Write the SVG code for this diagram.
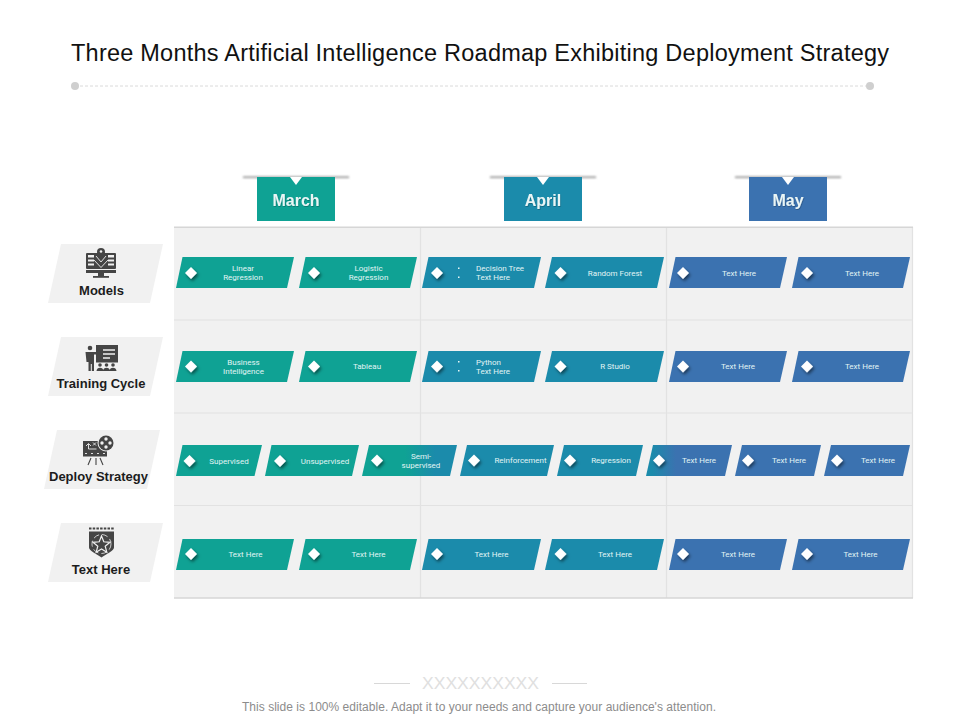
<svg xmlns="http://www.w3.org/2000/svg" width="960" height="720" viewBox="0 0 960 720">
<style>
text{font-family:"Liberation Sans",Arial,sans-serif}
.title{font-size:23.5px;fill:#111}
.foot{font-size:12px;fill:#8c8c8c}
.month{font-size:16px;font-weight:bold;fill:#eaf5f5;text-anchor:middle}
.side{font-size:13px;font-weight:bold;fill:#1c1c1c;text-anchor:middle}
.t{font-family:"Roboto","Liberation Sans",sans-serif;font-weight:400;font-size:8px;fill:#e2f5f5;text-anchor:middle}
.l{text-anchor:start}
.teal{fill:#0fa294}.blue{fill:#1b8bab}.navy{fill:#3b72b0}
.panel{fill:#f1f1f1}
.ico{fill:#454545}
.icow{fill:#f0f0f0}
.grid{stroke:#e2e2e2;stroke-width:1.2;fill:none}
.edge{stroke:#d6d6d6;stroke-width:1.5;fill:none}
.dm{fill:#fff;filter:url(#sh)}
.bar{fill:#8a8a8a;filter:url(#bs)}
.dot{fill:#e8f7f7}
</style>
<defs>
<filter id="sh" x="-80%" y="-80%" width="260%" height="260%"><feDropShadow dx="1.5" dy="2.200" stdDeviation="1.400" flood-color="#000" flood-opacity=".5"/></filter>
<filter id="bs" x="-10%" y="-300%" width="120%" height="700%"><feGaussianBlur stdDeviation="1"/></filter>
<filter id="ts" x="-10%" y="-20%" width="120%" height="150%"><feDropShadow dx=".6" dy=".8" stdDeviation=".5" flood-color="#000" flood-opacity=".3"/></filter>
<polygon id="dia" points="0,-6 6,0 0,6 -6,0"/>
<linearGradient id="g1" gradientUnits="userSpaceOnUse" x1="405" x2="435" y1="0" y2="0"><stop offset="0" stop-color="#0fa294"/><stop offset="1" stop-color="#1b8bab"/></linearGradient>
<linearGradient id="g2" gradientUnits="userSpaceOnUse" x1="652" x2="676" y1="0" y2="0"><stop offset="0" stop-color="#1b8bab"/><stop offset="1" stop-color="#3b72b0"/></linearGradient>
</defs>
<rect width="960" height="720" fill="#fff"/>
<g id="header">
<text class="title" x="71" y="61" textLength="818" lengthAdjust="spacing">Three Months Artificial Intelligence Roadmap Exhibiting Deployment Strategy</text>
<line x1="80" y1="86" x2="866" y2="86" stroke="#dadada" stroke-width="1" stroke-dasharray="3 2"/>
<circle cx="75" cy="86" r="4" fill="#cfcfcf"/><circle cx="870" cy="86" r="4" fill="#cfcfcf"/>
</g>
<g id="table">
<rect x="174" y="227" width="739" height="371" fill="#f1f1f1"/>
<path class="grid" d="M174 320H913M174 413H913M174 505.500H913M420.500 227V598M666.500 227V598M912.500 227V598"/>
<path class="edge" d="M174 227.300H913M174 598H913"/>
</g>
<g id="month-march">
<rect class="bar" x="243" y="176.500" width="106" height="1.500"/>
<rect class="teal" x="257" y="177" width="78" height="44"/>
<polygon points="290,177 302,177 296,185" fill="#fff"/>
<text class="month" x="296" y="206" filter="url(#ts)">March</text>
</g>
<g id="month-april">
<rect class="bar" x="490" y="176.500" width="106" height="1.500"/>
<rect class="blue" x="504" y="177" width="78" height="44"/>
<polygon points="537,177 549,177 543,185" fill="#fff"/>
<text class="month" x="543" y="206" filter="url(#ts)">April</text>
</g>
<g id="month-may">
<rect class="bar" x="735" y="176.500" width="106" height="1.500"/>
<rect class="navy" x="749" y="177" width="78" height="44"/>
<polygon points="782,177 794,177 788,185" fill="#fff"/>
<text class="month" x="788" y="206" filter="url(#ts)">May</text>
</g>
<g id="side-models">
<polygon class="panel" points="61,244 163,244 150,303 48,303"/>
<g class="ico">
<rect x="86" y="253" width="30" height="16" rx="1"/>
<circle cx="101" cy="252" r="4"/>
<rect x="86" y="270" width="30" height="3"/>
<rect x="98" y="273" width="6" height="3"/><rect x="93" y="276" width="16" height="1.800"/>
</g>
<path d="M88 255h6v2.500h-6zM108 255h6v2.500h-6zM88 259.500h6v2h-6zM108 259.500h6v2h-6zM88 263.500h6v2h-6zM108 263.500h6v2h-6z" class="icow"/>
<path d="M96 256l5 6 5-6M94 260l7 7.500 7-7.500" fill="none" stroke="#f0f0f0" stroke-width=".9"/>
<circle cx="101" cy="251.500" r="1.300" class="icow"/>
<text class="side" x="101.500" y="295">Models</text>
</g>
<g id="side-training">
<polygon class="panel" points="61,337 163,337 150,396 48,396"/>
<g class="ico">
<rect x="96" y="345" width="22" height="17.500"/>
<circle cx="90" cy="348" r="2.300"/>
<path d="M85.500 352h8l4 0v2.500h-3.500V362v9h-2.200v-7h-1v7h-2.300v-9h-2z"/>
<circle cx="100" cy="365" r="1.800"/><circle cx="106.500" cy="365" r="1.800"/><circle cx="113" cy="365" r="1.800"/>
<path d="M96.500 371c0-4.500 7-4.500 7 0zM103 371c0-4.500 7-4.500 7 0zM109.500 371c0-4.500 7-4.500 7 0z"/>
</g>
<path d="M103 350h12M103 354h12M103 358h7" stroke="#f0f0f0" stroke-width="1.300"/>
<text class="side" x="101" y="388">Training Cycle</text>
</g>
<g id="side-deploy">
<polygon class="panel" points="57,430 160,430 147,489 44,489"/>
<rect class="ico" x="83" y="441" width="24" height="15.500"/>
<circle cx="106" cy="443" r="8.500" fill="#f0f0f0"/>
<circle class="ico" cx="106" cy="443" r="7.500"/>
<g class="icow"><circle cx="106" cy="439" r="1.700"/><circle cx="110" cy="443" r="1.700"/><circle cx="106" cy="447" r="1.700"/><circle cx="102" cy="443" r="1.700"/></g>
<path d="M86 446l2.500-2.500 2.500 2.500M88.500 444v5h8M93 442.500l3 3M96 442.500l-3 3M85 453.500h2M91 453.500h2M97 453.500h2M103 453.500h2" stroke="#f0f0f0" stroke-width=".9" fill="none"/>
<path d="M91 458l-3 7M96 458v7M100 458l3 7" stroke="#454545" stroke-width="1.100"/>
<text class="side" x="98.500" y="481">Deploy Strategy</text>
</g>
<g id="side-text">
<polygon class="panel" points="61,523 163,523 150,582 48,582"/>
<path class="ico" d="M89 531.500h25v16c0 3-8 7-12.500 10c-4.500-3-12.500-7-12.500-10z"/>
<path d="M89 528.500h25" stroke="#454545" stroke-width="2" stroke-dasharray="2.500 1.200"/>
<circle cx="101.500" cy="544" r="9.500" fill="none" stroke="#f0f0f0" stroke-width=".8" stroke-dasharray="6 3"/>
<polygon points="101.500,536 103.800,541.800 110,542.300 105.200,546.200 106.800,552.200 101.500,548.900 96.200,552.200 97.800,546.200 93,542.300 99.200,541.800" fill="#454545" stroke="#f0f0f0" stroke-width="1.200"/>
<text class="side" x="101" y="574">Text Here</text>
</g>
<g id="r1c1"><polygon class="teal" points="182.500,257 294,257 287,288 176,288"/><use href="#dia" class="dm" x="191" y="273"/><text class="t" x="243" y="270.500">Linear</text><text class="t" x="243" y="279.500">Regression</text></g>
<g id="r1c2"><polygon class="teal" points="305.500,257 417,257 410,288 299,288"/><use href="#dia" class="dm" x="314" y="273"/><text class="t" x="368.500" y="270.500">Logistic</text><text class="t" x="368.500" y="279.500">Regression</text></g>
<g id="r1c3"><polygon class="blue" points="428.500,257 541,257 534,288 422,288"/><use href="#dia" class="dm" x="437" y="273"/><rect class="dot" x="458" y="267.500" width="1.500" height="1.500"/><rect class="dot" x="458" y="276.500" width="1.500" height="1.500"/><text class="t l" x="476" y="270.500">Decision Tree</text><text class="t l" x="476" y="279.500">Text Here</text></g>
<g id="r1c4"><polygon class="blue" points="552,257 664,257 657,288 545,288"/><use href="#dia" class="dm" x="560.500" y="273"/><text class="t" x="615" y="276">Random  Forest</text></g>
<g id="r1c5"><polygon class="navy" points="675.500,257 787,257 780,288 669,288"/><use href="#dia" class="dm" x="683" y="273"/><text class="t" x="739" y="276">Text Here</text></g>
<g id="r1c6"><polygon class="navy" points="798.500,257 910,257 903,288 792,288"/><use href="#dia" class="dm" x="807" y="273"/><text class="t" x="862" y="276">Text Here</text></g>
<g id="r2c1"><polygon class="teal" points="182.500,351 294,351 287,382 176,382"/><use href="#dia" class="dm" x="191" y="366.500"/><text class="t" x="243.500" y="365">Business</text><text class="t" x="243.500" y="374">Intelligence</text></g>
<g id="r2c2"><polygon class="teal" points="305.500,351 417,351 410,382 299,382"/><use href="#dia" class="dm" x="314" y="366.500"/><text class="t" x="367" y="369">Tableau</text></g>
<g id="r2c3"><polygon class="blue" points="428.500,351 541,351 534,382 422,382"/><use href="#dia" class="dm" x="437" y="366.500"/><rect class="dot" x="458" y="361" width="1.500" height="1.500"/><rect class="dot" x="458" y="370" width="1.500" height="1.500"/><text class="t l" x="476" y="364.500">Python</text><text class="t l" x="476" y="373.500">Text Here</text></g>
<g id="r2c4"><polygon class="blue" points="552,351 664,351 657,382 545,382"/><use href="#dia" class="dm" x="560.500" y="366.500"/><text class="t" x="615" y="369">R Studio</text></g>
<g id="r2c5"><polygon class="navy" points="675.500,351 787,351 780,382 669,382"/><use href="#dia" class="dm" x="683" y="366.500"/><text class="t" x="738" y="369">Text Here</text></g>
<g id="r2c6"><polygon class="navy" points="798.500,351 910,351 903,382 792,382"/><use href="#dia" class="dm" x="807" y="366.500"/><text class="t" x="862" y="369">Text Here</text></g>
<g id="r3c1"><polygon class="teal" points="182.500,445 262,445 254.500,476 176,476"/><use href="#dia" class="dm" x="189.500" y="461"/><text class="t" x="229" y="463.500">Supervised</text></g>
<g id="r3c2"><polygon class="teal" points="271.500,445 359,445 352,476 265,476"/><use href="#dia" class="dm" x="280" y="461"/><text class="t" x="325" y="463.500">Unsupervised</text></g>
<g id="r3c3"><polygon fill="url(#g1)" points="369,445 457,445 450,476 362,476"/><use href="#dia" class="dm" x="377" y="460.500"/><text class="t" x="421" y="459">Semi-</text><text class="t" x="421" y="468">supervised</text></g>
<g id="r3c4"><polygon class="blue" points="467,445 554,445 547,476 460,476"/><use href="#dia" class="dm" x="474" y="460.500"/><text class="t" x="520.500" y="463">Reinforcement</text></g>
<g id="r3c5"><polygon class="blue" points="564,445 643,445 636,476 557,476"/><use href="#dia" class="dm" x="570" y="460.500"/><text class="t" x="611" y="463">Regression</text></g>
<g id="r3c6"><polygon fill="url(#g2)" points="653,445 732,445 725,476 646,476"/><use href="#dia" class="dm" x="659" y="460.500"/><text class="t" x="699" y="463">Text Here</text></g>
<g id="r3c7"><polygon class="navy" points="742,445 821,445 814,476 735,476"/><use href="#dia" class="dm" x="748" y="460.500"/><text class="t" x="789" y="463">Text Here</text></g>
<g id="r3c8"><polygon class="navy" points="831,445 910,445 903,476 824,476"/><use href="#dia" class="dm" x="837" y="460.500"/><text class="t" x="878" y="463">Text Here</text></g>
<g id="r4c1"><polygon class="teal" points="182.500,539 294,539 287,570 176,570"/><use href="#dia" class="dm" x="191" y="554"/><text class="t" x="245.500" y="557">Text Here</text></g>
<g id="r4c2"><polygon class="teal" points="305.500,539 417,539 410,570 299,570"/><use href="#dia" class="dm" x="314" y="554"/><text class="t" x="368.500" y="557">Text Here</text></g>
<g id="r4c3"><polygon class="blue" points="428.500,539 541,539 534,570 422,570"/><use href="#dia" class="dm" x="437" y="554"/><text class="t" x="491.500" y="557">Text Here</text></g>
<g id="r4c4"><polygon class="blue" points="552,539 664,539 657,570 545,570"/><use href="#dia" class="dm" x="560.500" y="554"/><text class="t" x="615" y="557">Text Here</text></g>
<g id="r4c5"><polygon class="navy" points="675.500,539 787,539 780,570 669,570"/><use href="#dia" class="dm" x="683" y="554"/><text class="t" x="738" y="557">Text Here</text></g>
<g id="r4c6"><polygon class="navy" points="798.500,539 910,539 903,570 792,570"/><use href="#dia" class="dm" x="807" y="554"/><text class="t" x="860.500" y="557">Text Here</text></g>
<g id="footer">
<path d="M374 683.500H410M552 683.500H587" stroke="#d8d8d8" stroke-width="1"/>
<text x="422" y="689" font-size="17" fill="#e0e0e0" textLength="117" lengthAdjust="spacingAndGlyphs">XXXXXXXXXX</text>
<text class="foot" x="242" y="711" textLength="474" lengthAdjust="spacing">This slide is 100% editable. Adapt it to your needs and capture your audience's attention.</text>
</g>
</svg>
